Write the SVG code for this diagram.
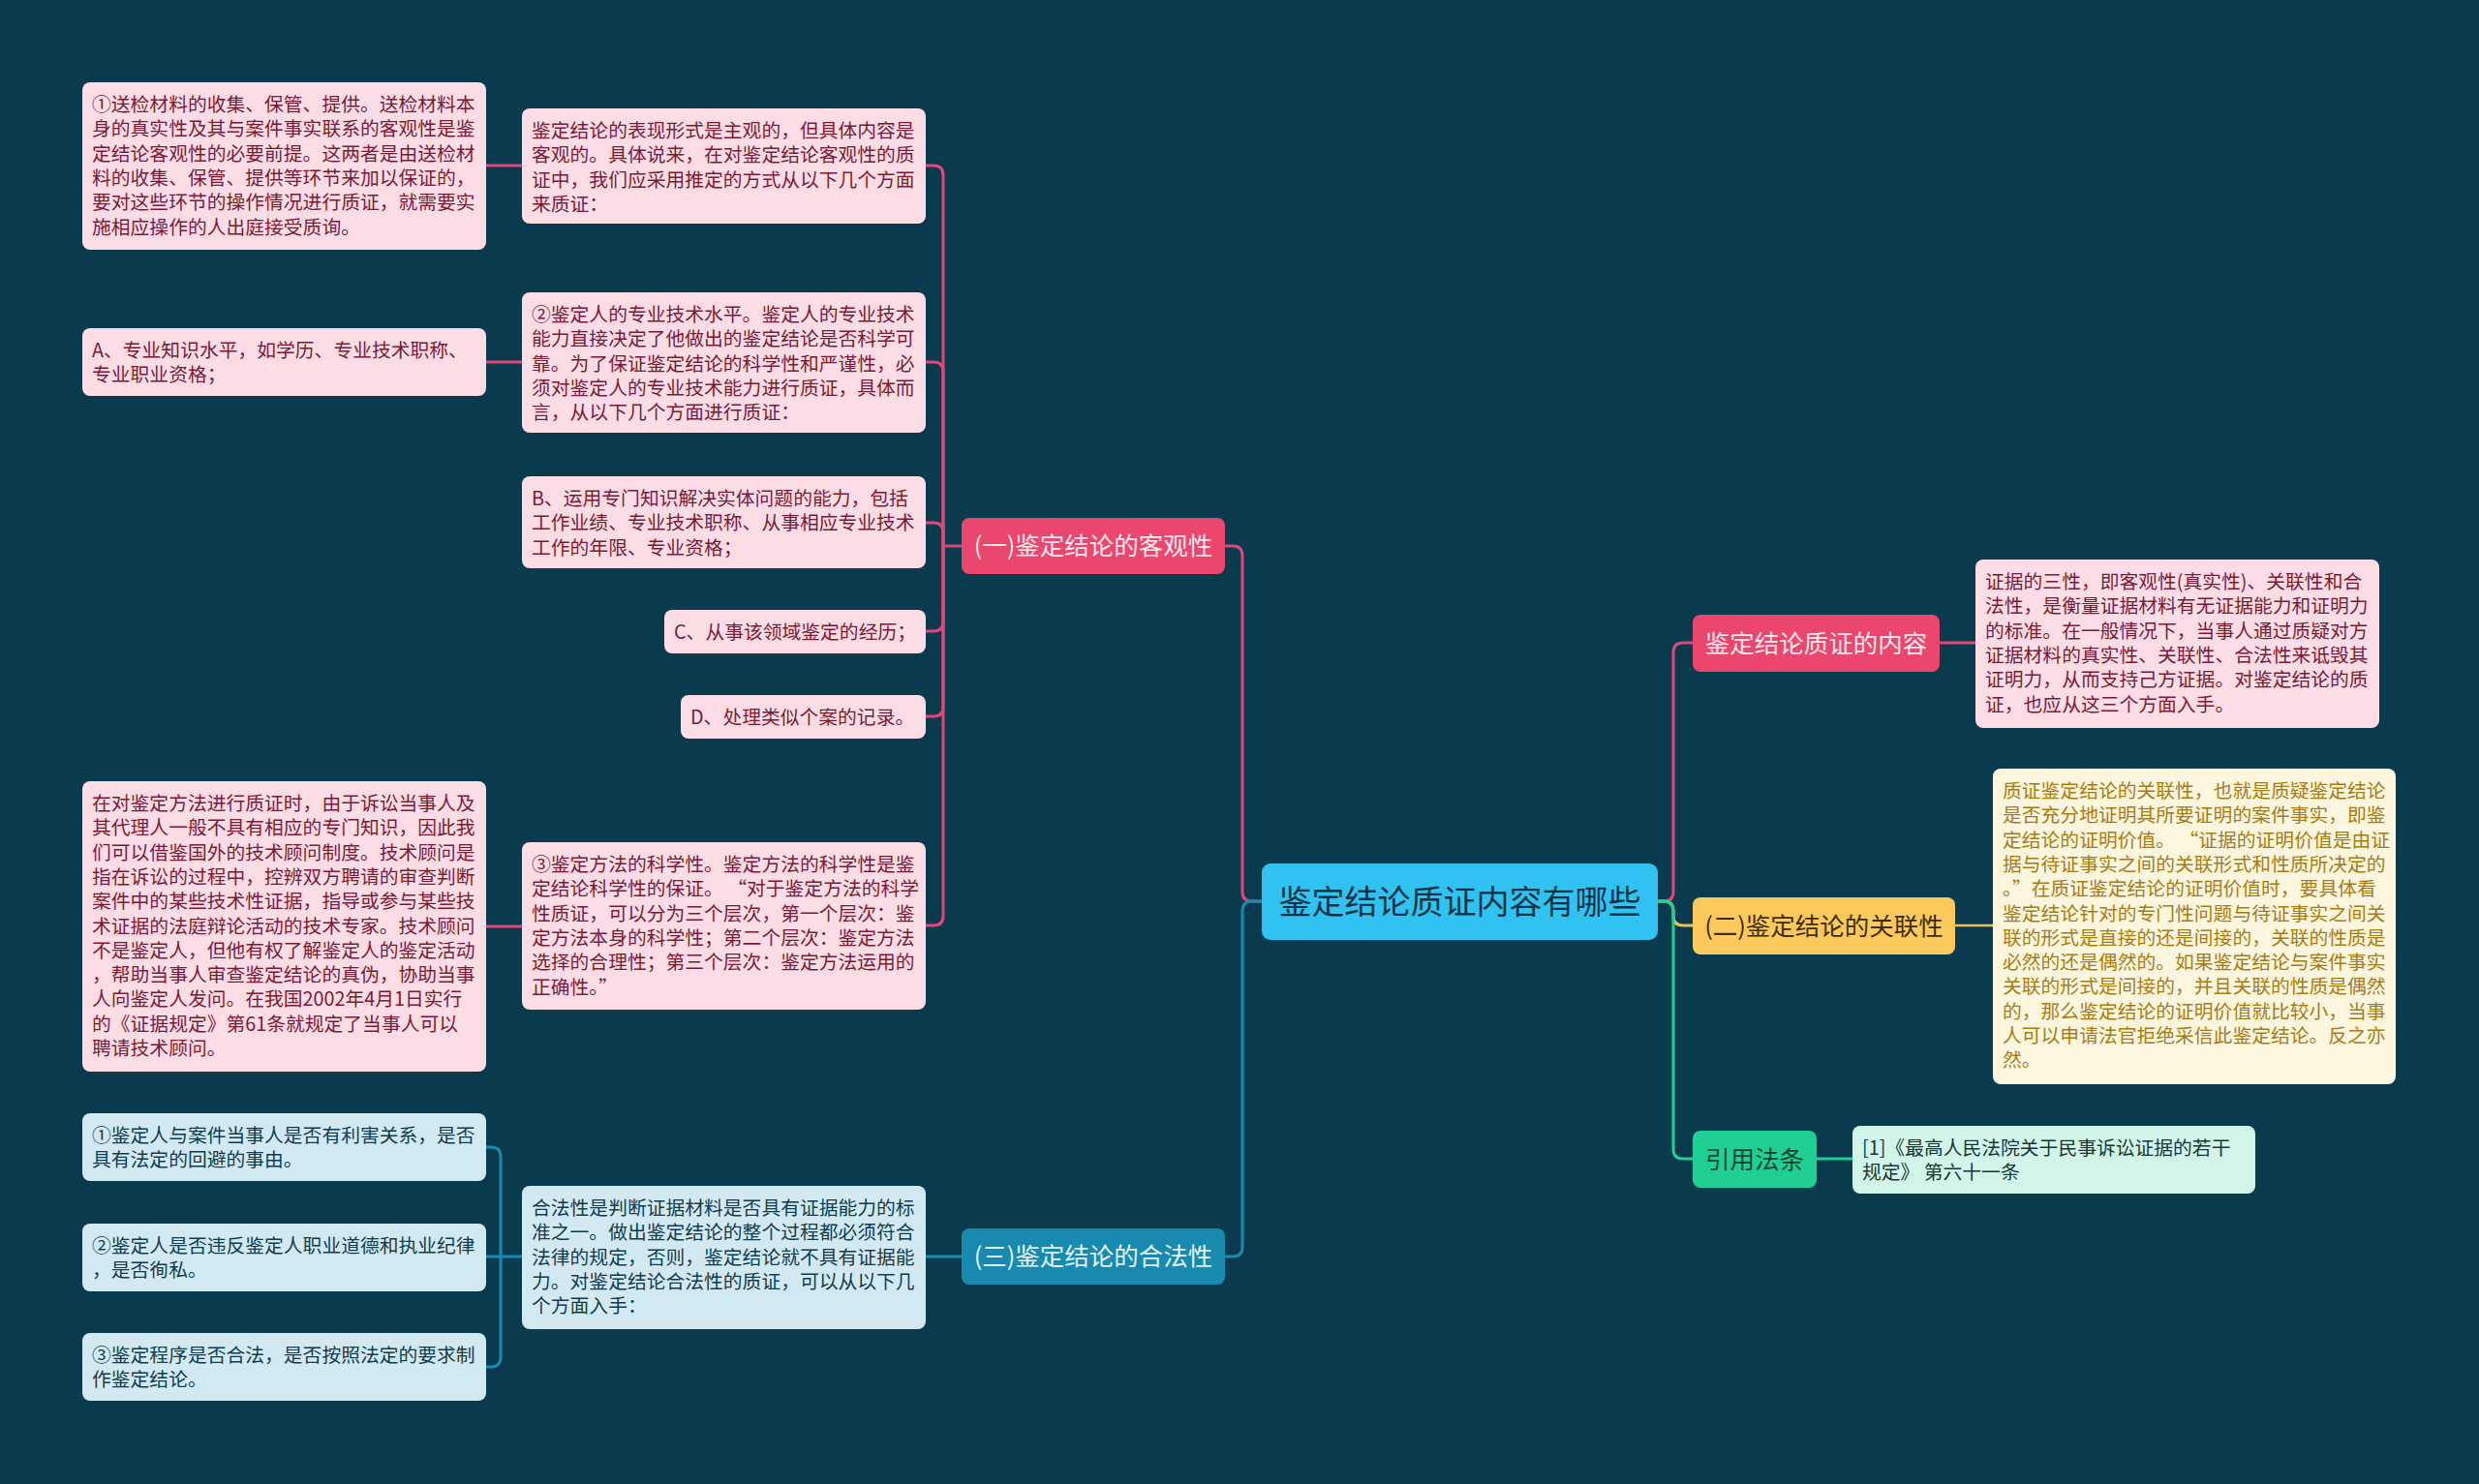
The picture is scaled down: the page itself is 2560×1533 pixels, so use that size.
<svg xmlns="http://www.w3.org/2000/svg" width="2560" height="1533" viewBox="0 0 2560 1533">
<style>
text{font-family:"Noto Sans CJK SC","Noto Sans",sans-serif}
.bt{font-size:19.8px}
.pk rect{fill:#fcdde5}.pk text{fill:#7c1a35}
.bl rect{fill:#d3e9f1}.bl text{fill:#0f3d4f}
.yl rect{fill:#fdf6df}.yl text{fill:#a77c13}
.gr rect{fill:#d2f5ea}.gr text{fill:#183832}
.nd text{font-size:25.5px;text-anchor:middle}
.c path{fill:none;stroke-width:3}
.p{stroke:#e0487a}.b{stroke:#188ab0}.y{stroke:#e9c15e}.g{stroke:#1fcf93}
</style>
<rect width="2560" height="1533" fill="#093a4e"/>
<g id="connectors" class="c">
<path class="p" d="M1303,931 H1293 Q1283,931 1283,921 V574 Q1283,564 1273,564 H1265"/>
<path class="b" d="M1303,931 H1293 Q1283,931 1283,941 V1288 Q1283,1298 1273,1298 H1265"/>
<path class="p" d="M1712,931 H1718 Q1728,931 1728,921 V674 Q1728,664 1738,664 H1748"/>
<path class="y" d="M1712,931 H1718 Q1728,931 1728,941 V946 Q1728,956 1738,956 H1748"/>
<path class="g" d="M1712,931 H1718 Q1728,931 1728,941 V1187 Q1728,1197 1738,1197 H1748"/>
<path class="p" d="M2003,664 H2040"/>
<path class="y" d="M2019,956 H2058" style="stroke-width:2.5"/>
<path class="g" d="M1876,1197 H1913"/>
<path class="p" d="M993,564 H974"/>
<path class="p" d="M974,564 V181 Q974,171 964,171 H956"/>
<path class="p" d="M974,564 V384 Q974,374 964,374 H956"/>
<path class="p" d="M974,564 V550 Q974,540 964,540 H956"/>
<path class="p" d="M974,564 V642 Q974,652 964,652 H956"/>
<path class="p" d="M974,564 V730 Q974,740 964,740 H956"/>
<path class="p" d="M974,564 V946 Q974,956 964,956 H956"/>
<path class="p" d="M539,171 H502"/>
<path class="p" d="M539,374 H502"/>
<path class="p" d="M539,957 H502"/>
<path class="b" d="M993,1298 H956"/>
<path class="b" d="M539,1298 H517"/>
<path class="b" d="M517,1298 V1195 Q517,1185 507,1185 H502"/>
<path class="b" d="M517,1298 H502"/>
<path class="b" d="M517,1298 V1402 Q517,1412 507,1412 H502"/>
</g>
<g id="center" class="nd"><rect x="1303" y="892" width="409" height="79" rx="9" fill="#30c3f1"/><text x="1507.5" y="944" style="font-size:34px" fill="#0c3446">鉴定结论质证内容有哪些</text></g>
<g id="n1" class="nd"><rect x="993" y="535" width="272" height="58" rx="8" fill="#ea466e"/><text x="1129" y="573" fill="#fde6ec">(一)鉴定结论的客观性</text></g>
<g id="n3" class="nd"><rect x="993" y="1269" width="272" height="58" rx="8" fill="#188ab0"/><text x="1129" y="1307" fill="#e2f4fa">(三)鉴定结论的合法性</text></g>
<g id="nr1" class="nd"><rect x="1748" y="635" width="255" height="59" rx="8" fill="#ea466e"/><text x="1875.5" y="674" fill="#fde6ec">鉴定结论质证的内容</text></g>
<g id="n2" class="nd"><rect x="1748" y="927" width="271" height="59" rx="8" fill="#fbc95c"/><text x="1883.5" y="966" fill="#3d2e00">(二)鉴定结论的关联性</text></g>
<g id="nlaw" class="nd"><rect x="1748" y="1168" width="128" height="59" rx="8" fill="#1fcf93"/><text x="1812" y="1207" fill="#0b4536">引用法条</text></g>

<g id="t1" class="pk"><rect x="85" y="85" width="417" height="173" rx="8"/><text class="bt"><tspan x="95" y="115">①送检材料的收集、保管、提供。送检材料本</tspan><tspan x="95" y="140.3">身的真实性及其与案件事实联系的客观性是鉴</tspan><tspan x="95" y="165.6">定结论客观性的必要前提。这两者是由送检材</tspan><tspan x="95" y="190.9">料的收集、保管、提供等环节来加以保证的，</tspan><tspan x="95" y="216.2">要对这些环节的操作情况进行质证，就需要实</tspan><tspan x="95" y="241.5">施相应操作的人出庭接受质询。</tspan></text></g>
<g id="t2" class="pk"><rect x="539" y="112" width="417" height="119" rx="8"/><text class="bt"><tspan x="549" y="142">鉴定结论的表现形式是主观的，但具体内容是</tspan><tspan x="549" y="167.3">客观的。具体说来，在对鉴定结论客观性的质</tspan><tspan x="549" y="192.6">证中，我们应采用推定的方式从以下几个方面</tspan><tspan x="549" y="217.9">来质证：</tspan></text></g>
<g id="tA" class="pk"><rect x="85" y="339" width="417" height="70" rx="8"/><text class="bt"><tspan x="95" y="369">A、专业知识水平，如学历、专业技术职称、</tspan><tspan x="95" y="394.3">专业职业资格；</tspan></text></g>
<g id="t3" class="pk"><rect x="539" y="302" width="417" height="145" rx="8"/><text class="bt"><tspan x="549" y="332">②鉴定人的专业技术水平。鉴定人的专业技术</tspan><tspan x="549" y="357.3">能力直接决定了他做出的鉴定结论是否科学可</tspan><tspan x="549" y="382.6">靠。为了保证鉴定结论的科学性和严谨性，必</tspan><tspan x="549" y="407.9">须对鉴定人的专业技术能力进行质证，具体而</tspan><tspan x="549" y="433.2">言，从以下几个方面进行质证：</tspan></text></g>
<g id="tB" class="pk"><rect x="539" y="492" width="417" height="95" rx="8"/><text class="bt"><tspan x="549" y="522">B、运用专门知识解决实体问题的能力，包括</tspan><tspan x="549" y="547.3">工作业绩、专业技术职称、从事相应专业技术</tspan><tspan x="549" y="572.6">工作的年限、专业资格；</tspan></text></g>
<g id="tC" class="pk"><rect x="686" y="630" width="270" height="45" rx="8"/><text class="bt"><tspan x="696" y="660">C、从事该领域鉴定的经历；</tspan></text></g>
<g id="tD" class="pk"><rect x="703" y="718" width="253" height="45" rx="8"/><text class="bt"><tspan x="713" y="748">D、处理类似个案的记录。</tspan></text></g>
<g id="t4" class="pk"><rect x="85" y="807" width="417" height="300" rx="8"/><text class="bt"><tspan x="95" y="837">在对鉴定方法进行质证时，由于诉讼当事人及</tspan><tspan x="95" y="862.3">其代理人一般不具有相应的专门知识，因此我</tspan><tspan x="95" y="887.6">们可以借鉴国外的技术顾问制度。技术顾问是</tspan><tspan x="95" y="912.9">指在诉讼的过程中，控辨双方聘请的审查判断</tspan><tspan x="95" y="938.2">案件中的某些技术性证据，指导或参与某些技</tspan><tspan x="95" y="963.5">术证据的法庭辩论活动的技术专家。技术顾问</tspan><tspan x="95" y="988.8">不是鉴定人，但他有权了解鉴定人的鉴定活动</tspan><tspan x="95" y="1014.1">，帮助当事人审查鉴定结论的真伪，协助当事</tspan><tspan x="95" y="1039.4">人向鉴定人发问。在我国2002年4月1日实行</tspan><tspan x="95" y="1064.7">的《证据规定》第61条就规定了当事人可以</tspan><tspan x="95" y="1090">聘请技术顾问。</tspan></text></g>
<g id="t5" class="pk"><rect x="539" y="870" width="417" height="173" rx="8"/><text class="bt"><tspan x="549" y="900">③鉴定方法的科学性。鉴定方法的科学性是鉴</tspan><tspan x="549" y="925.3">定结论科学性的保证。 “对于鉴定方法的科学</tspan><tspan x="549" y="950.6">性质证，可以分为三个层次，第一个层次：鉴</tspan><tspan x="549" y="975.9">定方法本身的科学性；第二个层次：鉴定方法</tspan><tspan x="549" y="1001.2">选择的合理性；第三个层次：鉴定方法运用的</tspan><tspan x="549" y="1026.5">正确性。”</tspan></text></g>
<g id="t6" class="bl"><rect x="539" y="1225" width="417" height="148" rx="8"/><text class="bt"><tspan x="549" y="1255">合法性是判断证据材料是否具有证据能力的标</tspan><tspan x="549" y="1280.3">准之一。做出鉴定结论的整个过程都必须符合</tspan><tspan x="549" y="1305.6">法律的规定，否则，鉴定结论就不具有证据能</tspan><tspan x="549" y="1330.9">力。对鉴定结论合法性的质证，可以从以下几</tspan><tspan x="549" y="1356.2">个方面入手：</tspan></text></g>
<g id="t7" class="bl"><rect x="85" y="1150" width="417" height="70" rx="8"/><text class="bt"><tspan x="95" y="1180">①鉴定人与案件当事人是否有利害关系，是否</tspan><tspan x="95" y="1205.3">具有法定的回避的事由。</tspan></text></g>
<g id="t8" class="bl"><rect x="85" y="1264" width="417" height="70" rx="8"/><text class="bt"><tspan x="95" y="1294">②鉴定人是否违反鉴定人职业道德和执业纪律</tspan><tspan x="95" y="1319.3">，是否徇私。</tspan></text></g>
<g id="t9" class="bl"><rect x="85" y="1377" width="417" height="70" rx="8"/><text class="bt"><tspan x="95" y="1407">③鉴定程序是否合法，是否按照法定的要求制</tspan><tspan x="95" y="1432.3">作鉴定结论。</tspan></text></g>
<g id="t10" class="pk"><rect x="2040" y="578" width="417" height="174" rx="8"/><text class="bt"><tspan x="2050" y="608">证据的三性，即客观性(真实性)、关联性和合</tspan><tspan x="2050" y="633.3">法性，是衡量证据材料有无证据能力和证明力</tspan><tspan x="2050" y="658.6">的标准。在一般情况下，当事人通过质疑对方</tspan><tspan x="2050" y="683.9">证据材料的真实性、关联性、合法性来诋毁其</tspan><tspan x="2050" y="709.2">证明力，从而支持己方证据。对鉴定结论的质</tspan><tspan x="2050" y="734.5">证，也应从这三个方面入手。</tspan></text></g>
<g id="t11" class="yl"><rect x="2058" y="794" width="416" height="326" rx="8"/><text class="bt"><tspan x="2068" y="824">质证鉴定结论的关联性，也就是质疑鉴定结论</tspan><tspan x="2068" y="849.3">是否充分地证明其所要证明的案件事实，即鉴</tspan><tspan x="2068" y="874.6">定结论的证明价值。 “证据的证明价值是由证</tspan><tspan x="2068" y="899.9">据与待证事实之间的关联形式和性质所决定的</tspan><tspan x="2068" y="925.2">。”在质证鉴定结论的证明价值时，要具体看</tspan><tspan x="2068" y="950.5">鉴定结论针对的专门性问题与待证事实之间关</tspan><tspan x="2068" y="975.8">联的形式是直接的还是间接的，关联的性质是</tspan><tspan x="2068" y="1001.1">必然的还是偶然的。如果鉴定结论与案件事实</tspan><tspan x="2068" y="1026.4">关联的形式是间接的，并且关联的性质是偶然</tspan><tspan x="2068" y="1051.7">的，那么鉴定结论的证明价值就比较小，当事</tspan><tspan x="2068" y="1077">人可以申请法官拒绝采信此鉴定结论。反之亦</tspan><tspan x="2068" y="1102.3">然。</tspan></text></g>
<g id="t12" class="gr"><rect x="1913" y="1163" width="416" height="70" rx="8"/><text class="bt"><tspan x="1923" y="1193">[1]《最高人民法院关于民事诉讼证据的若干</tspan><tspan x="1923" y="1218.3">规定》 第六十一条</tspan></text></g>
</svg>
